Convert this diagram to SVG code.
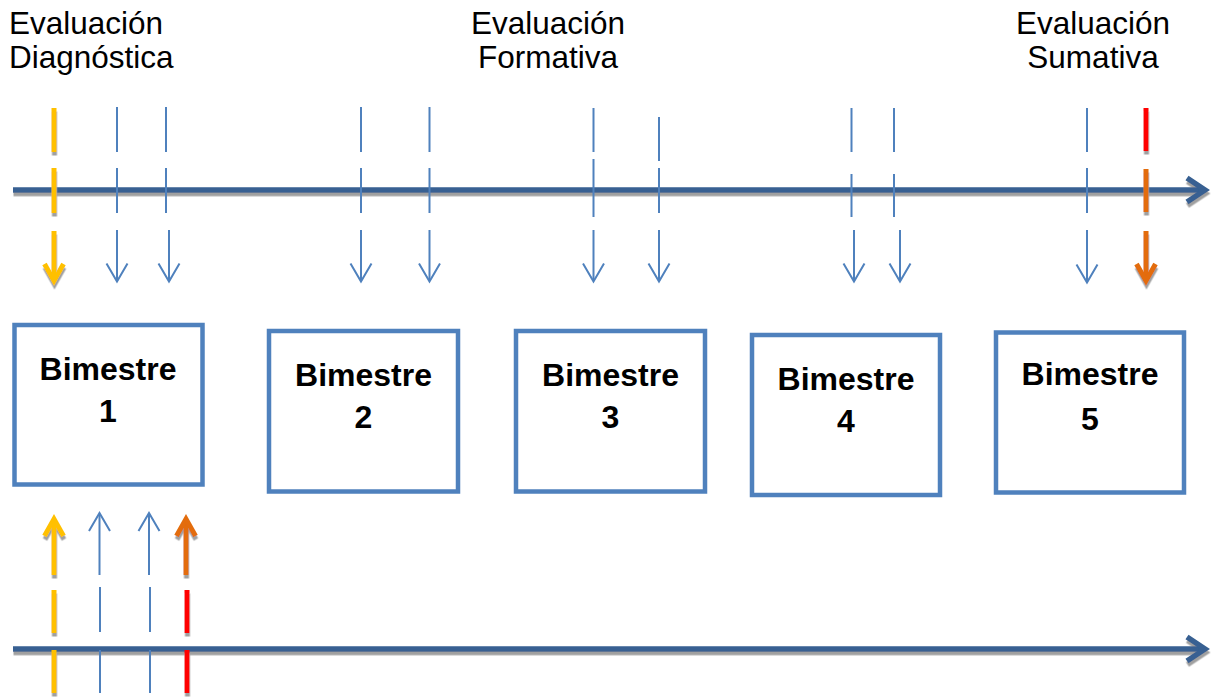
<svg xmlns="http://www.w3.org/2000/svg" width="1211" height="697" viewBox="0 0 1211 697">
<defs>
<filter id="sh" x="-50%" y="-50%" width="200%" height="200%">
<feDropShadow dx="0.5" dy="3.5" stdDeviation="0.4" flood-color="#A0A0A0" flood-opacity="1"/>
</filter>
</defs>
<style>
.lbl{font-family:"Liberation Sans",Arial,sans-serif;font-size:31.5px;fill:#000}
.bt{font-family:"Liberation Sans",Arial,sans-serif;font-size:32px;font-weight:bold;fill:#000;text-anchor:middle}
.box{fill:#fff;stroke:#4F81BD;stroke-width:4.5}
.axis{fill:none;stroke:#376092;stroke-width:5.5;stroke-linejoin:miter}
.thin{fill:none;stroke:#4F81BD;stroke-width:2}
.y{fill:none;stroke:#FFC000;stroke-width:5}
.o{fill:none;stroke:#E36C09;stroke-width:5}
.r{fill:none;stroke:#FF0000;stroke-width:5}
.shd{filter:url(#sh)}
</style>
<rect width="1211" height="697" fill="#fff"/>

<g id="label-diagnostica">
<text class="lbl" x="9" y="34">Evaluación</text>
<text class="lbl" x="9" y="68">Diagnóstica</text>
</g>
<g id="label-formativa">
<text class="lbl" x="548" y="34" text-anchor="middle">Evaluación</text>
<text class="lbl" x="548" y="68" text-anchor="middle">Formativa</text>
</g>
<g id="label-sumativa">
<text class="lbl" x="1093" y="34" text-anchor="middle">Evaluación</text>
<text class="lbl" x="1093" y="68" text-anchor="middle">Sumativa</text>
</g>

<g id="bimestre-1">
<rect class="box" x="14.5" y="325" width="188" height="159.5"/>
<text class="bt" x="108" y="380">Bimestre</text>
<text class="bt" x="108" y="422">1</text>
</g>
<g id="bimestre-2">
<rect class="box" x="269" y="331" width="189" height="160.5"/>
<text class="bt" x="363.5" y="386">Bimestre</text>
<text class="bt" x="363.5" y="428">2</text>
</g>
<g id="bimestre-3">
<rect class="box" x="516" y="331" width="189" height="160.5"/>
<text class="bt" x="610.5" y="386">Bimestre</text>
<text class="bt" x="610.5" y="428">3</text>
</g>
<g id="bimestre-4">
<rect class="box" x="752" y="335" width="188" height="160"/>
<text class="bt" x="846" y="390">Bimestre</text>
<text class="bt" x="846" y="432">4</text>
</g>
<g id="bimestre-5">
<rect class="box" x="996" y="332.5" width="188" height="160"/>
<text class="bt" x="1090" y="385">Bimestre</text>
<text class="bt" x="1090" y="430">5</text>
</g>

<g id="connectors">
<!-- timelines -->
<g class="shd">
<line class="axis" x1="13" y1="190" x2="1203" y2="190"/>
<polyline class="axis" points="1187,178 1205,190 1187,202"/>
<line class="axis" x1="13" y1="649" x2="1203" y2="649"/>
<polyline class="axis" points="1187,637 1205,649 1187,661"/>
</g>

<!-- top ticks: thick coloured -->
<g class="shd">
<line class="y" x1="54" y1="108" x2="54" y2="152"/>
<line class="y" x1="54" y1="168" x2="54" y2="213"/>
<line class="y" x1="54" y1="231" x2="54" y2="279"/>
<polyline class="y" points="44.5,264 54,281 63.5,264"/>
<line class="r" x1="1146" y1="108" x2="1146" y2="151"/>
<line class="o" x1="1146" y1="169" x2="1146" y2="212"/>
<line class="o" x1="1146" y1="231" x2="1146" y2="279"/>
<polyline class="o" points="1136.5,264 1146,281 1155.5,264"/>
</g>

<!-- top ticks: thin blue -->
<g class="thin">
<line x1="117" y1="107" x2="117" y2="152"/><line x1="117" y1="168" x2="117" y2="213"/>
<line x1="117" y1="230" x2="117" y2="281"/><polyline points="106.5,263.5 117,281.5 127.5,263.5"/>
<line x1="166" y1="107" x2="166" y2="152"/><line x1="166" y1="168" x2="166" y2="213"/>
<line x1="169" y1="230" x2="169" y2="281"/><polyline points="158.5,263.5 169,281.5 179.5,263.5"/>
<line x1="361" y1="107" x2="361" y2="152"/><line x1="361" y1="168" x2="361" y2="213"/>
<line x1="361" y1="230" x2="361" y2="281"/><polyline points="350.5,263.5 361,281.5 371.5,263.5"/>
<line x1="429.5" y1="107" x2="429.5" y2="152"/><line x1="429.5" y1="168" x2="429.5" y2="213"/>
<line x1="429.5" y1="230" x2="429.5" y2="281"/><polyline points="419,263.5 429.5,281.5 440,263.5"/>
<line x1="593.5" y1="108" x2="593.5" y2="152"/><line x1="593.5" y1="159" x2="593.5" y2="217"/>
<line x1="593.5" y1="230" x2="593.5" y2="281"/><polyline points="583,263.5 593.5,281.5 604,263.5"/>
<line x1="659" y1="117" x2="659" y2="161"/><line x1="659" y1="168" x2="659" y2="213"/>
<line x1="659" y1="230" x2="659" y2="281"/><polyline points="648.5,263.5 659,281.5 669.5,263.5"/>
<line x1="851.5" y1="108" x2="851.5" y2="152"/><line x1="851.5" y1="174" x2="851.5" y2="217"/>
<line x1="854" y1="230" x2="854" y2="281"/><polyline points="843.5,263.5 854,281.5 864.5,263.5"/>
<line x1="894" y1="108" x2="894" y2="152"/><line x1="894" y1="174" x2="894" y2="217"/>
<line x1="900" y1="230" x2="900" y2="281"/><polyline points="889.5,263.5 900,281.5 910.5,263.5"/>
<line x1="1087" y1="108" x2="1087" y2="152"/><line x1="1087" y1="168" x2="1087" y2="213"/>
<line x1="1087" y1="230" x2="1087" y2="282"/><polyline points="1076.5,264.5 1087,282.5 1097.5,264.5"/>
</g>

<!-- bottom ticks: thick coloured -->
<g class="shd">
<line class="y" x1="54" y1="590" x2="54" y2="633"/>
<line class="y" x1="54" y1="650" x2="54" y2="693"/>
<line class="y" x1="54" y1="575" x2="54" y2="521"/>
<polyline class="y" points="44.5,536 54,519 63.5,536"/>
<line class="r" x1="187" y1="590" x2="187" y2="633"/>
<line class="r" x1="187" y1="650" x2="187" y2="693"/>
<line class="o" x1="186" y1="575" x2="186" y2="521"/>
<polyline class="o" points="176.5,536 186,519 195.5,536"/>
</g>

<!-- bottom ticks: thin blue -->
<g class="thin">
<line x1="100" y1="587" x2="100" y2="632"/><line x1="100" y1="650" x2="100" y2="693"/>
<line x1="99.5" y1="575" x2="99.5" y2="514"/><polyline points="89,531 99.5,513 110,531"/>
<line x1="150" y1="587" x2="150" y2="632"/><line x1="150" y1="650" x2="150" y2="693"/>
<line x1="149" y1="575" x2="149" y2="514"/><polyline points="138.5,531 149,513 159.5,531"/>
</g>
</g>
</svg>
